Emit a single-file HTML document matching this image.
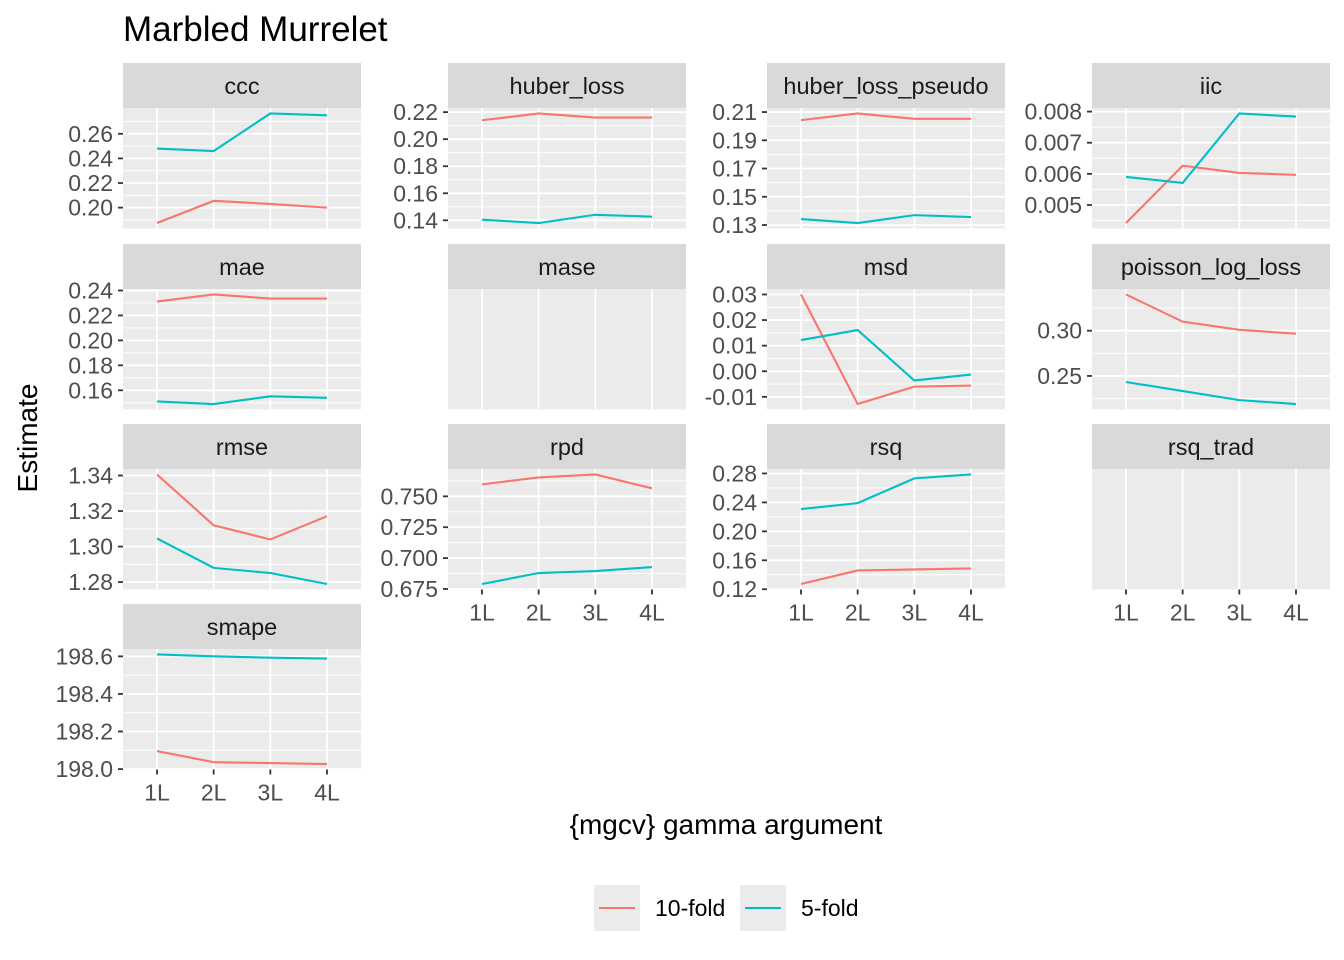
<!DOCTYPE html>
<html><head><meta charset="utf-8"><style>
html,body{margin:0;padding:0;background:#fff}
svg{display:block}
text{font-family:"Liberation Sans",Arial,sans-serif}
</style></head><body>
<svg id="chart" width="1344" height="960" xmlns="http://www.w3.org/2000/svg">
<text x="123" y="41" font-size="35" fill="#000">Marbled Murrelet</text>
<text transform="translate(37,438) rotate(-90)" text-anchor="middle" font-size="28" fill="#000">Estimate</text>
<text x="726" y="834" text-anchor="middle" font-size="28" fill="#000">{mgcv} gamma argument</text>
<g>
<rect x="594" y="885" width="46" height="46" fill="#ebebeb"/>
<line x1="599" x2="635" y1="908" y2="908" stroke="#F8766D" stroke-width="2"/>
<text x="655" y="916" font-size="23" fill="#000">10-fold</text>
<rect x="740" y="885" width="46" height="46" fill="#ebebeb"/>
<line x1="745" x2="781" y1="908" y2="908" stroke="#00BFC4" stroke-width="2"/>
<text x="801" y="916" font-size="23" fill="#000">5-fold</text>
</g>
</svg>
<script>
const categories = ["1L","2L","3L","4L"];
const metrics = ["ccc","huber_loss","huber_loss_pseudo","iic","mae","mase","msd","poisson_log_loss","rmse","rpd","rsq","rsq_trad","smape"];
const tenFold = {
 ccc:[0.1875,0.2055,0.203,0.200],
 huber_loss:[0.2140,0.2190,0.2160,0.2160],
 huber_loss_pseudo:[0.2043,0.2090,0.2052,0.2052],
 iic:[0.00442,0.00626,0.00603,0.00597],
 mae:[0.2311,0.2368,0.2335,0.2335],
 mase:null,
 msd:[0.0300,-0.0128,-0.0060,-0.0056],
 poisson_log_loss:[0.340,0.310,0.301,0.2967],
 rmse:[1.3406,1.312,1.304,1.3171],
 rpd:[0.7597,0.7653,0.7677,0.7565],
 rsq:[0.1272,0.146,0.1473,0.1487],
 rsq_trad:null,
 smape:[198.096,198.037,198.032,198.027]
};
const fiveFold = {
 ccc:[0.248,0.246,0.2765,0.275],
 huber_loss:[0.1405,0.138,0.1441,0.1427],
 huber_loss_pseudo:[0.1342,0.1314,0.137,0.1356],
 iic:[0.0059,0.00571,0.00794,0.00784],
 mae:[0.1511,0.1490,0.1552,0.1540],
 mase:null,
 msd:[0.0122,0.0161,-0.0036,-0.0013],
 poisson_log_loss:[0.2433,0.2333,0.2233,0.219],
 rmse:[1.3046,1.288,1.2851,1.2789],
 rpd:[0.6790,0.6879,0.6895,0.6927],
 rsq:[0.2308,0.239,0.2732,0.2786],
 rsq_trad:null,
 smape:[198.610,198.600,198.593,198.588]
};
const tickLabels = {
 ccc:["0.20","0.22","0.24","0.26"],
 huber_loss:["0.14","0.16","0.18","0.20","0.22"],
 huber_loss_pseudo:["0.13","0.15","0.17","0.19","0.21"],
 iic:["0.005","0.006","0.007","0.008"],
 mae:["0.16","0.18","0.20","0.22","0.24"],
 mase:[],
 msd:["-0.01","0.00","0.01","0.02","0.03"],
 poisson_log_loss:["0.25","0.30"],
 rmse:["1.28","1.30","1.32","1.34"],
 rpd:["0.675","0.700","0.725","0.750"],
 rsq:["0.12","0.16","0.20","0.24","0.28"],
 rsq_trad:[],
 smape:["198.0","198.2","198.4","198.6"]
};
const NS="http://www.w3.org/2000/svg";
const svg=document.getElementById('chart');
function mk(tag,attrs,parent){const e=document.createElementNS(NS,tag);for(const k in attrs)e.setAttribute(k,attrs[k]);(parent||svg).appendChild(e);return e;}
const colX=[123,448,767,1092], PW=238;
const rowStrip=[63,244,424,604], SH=45, PH=120.5;
const bottomRow=[3,2,2,2];
metrics.forEach((m,i)=>{
 const col=i%4,row=Math.floor(i/4);
 const x0=colX[col], sy=rowStrip[row], py=sy+SH;
 const g=mk('g',{});
 
 
 const strip=mk('rect',{x:x0,y:sy,width:PW,height:SH,fill:'#d9d9d9'},g);
 
 
 const st=mk('text',{x:x0+PW/2,y:sy+31,'text-anchor':'middle','font-size':'23.5',fill:'#1a1a1a'},g);
 st.textContent=m;
 
 
 const bg=mk('rect',{x:x0,y:py,width:PW,height:PH,fill:'#ebebeb'},g);
 
 
 const xs=c=>x0+(c+1-0.4)/4.2*PW;
 const a=tenFold[m], b=fiveFold[m];
 if(a){
  const all=a.concat(b), mn=Math.min(...all), mx=Math.max(...all), r=mx-mn;
  const lo=mn-0.05*r, hi=mx+0.05*r;
  const ys=v=>py+PH-(v-lo)/(hi-lo)*PH;
  const tv=tickLabels[m].map(Number);
  const step=tv.length>1?tv[1]-tv[0]:0.05;
  for(let v=tv[0]-step/2; v<=hi; v+=step){ if(v>=lo){const y=ys(v);
   const l=mk('line',{x1:x0,x2:x0+PW,y1:y,y2:y,stroke:'#fff','stroke-width':0.9},g);
   
   }}
  tickLabels[m].forEach(t=>{const y=ys(Number(t));
   const l=mk('line',{x1:x0,x2:x0+PW,y1:y,y2:y,stroke:'#fff','stroke-width':1.8},g);
   
   
   const tk=mk('line',{x1:x0-5,x2:x0,y1:y,y2:y,stroke:'#333','stroke-width':1.8},g);
   
   
   const tl=mk('text',{x:x0-10,y:y+8,'text-anchor':'end','font-size':'23',fill:'#4d4d4d'},g);
   tl.textContent=t;
   
   
  });
  categories.forEach((c,k)=>{const l=mk('line',{x1:xs(k),x2:xs(k),y1:py,y2:py+PH,stroke:'#fff','stroke-width':1.8},g);
   
   });
  [[a,'#F8766D','line-10-fold'],[b,'#00BFC4','line-5-fold']].forEach(([arr,col2,nm])=>{
   const p=mk('polyline',{points:arr.map((v,k)=>xs(k)+','+ys(v)).join(' '),fill:'none',stroke:col2,'stroke-width':2.1},g);
   
   
  });
 } else {
  categories.forEach((c,k)=>{const l=mk('line',{x1:xs(k),x2:xs(k),y1:py,y2:py+PH,stroke:'#fff','stroke-width':1.8},g);
   
   });
 }
 if(row===bottomRow[col]){
  categories.forEach((c,k)=>{const by=py+PH;
   const tk=mk('line',{x1:xs(k),x2:xs(k),y1:by,y2:by+5,stroke:'#333','stroke-width':1.8},g);
   
   
   const tl=mk('text',{x:xs(k),y:by+31,'text-anchor':'middle','font-size':'23',fill:'#4d4d4d'},g);
   tl.textContent=c;
   
   
  });
 }
});
</script>
</body></html>
